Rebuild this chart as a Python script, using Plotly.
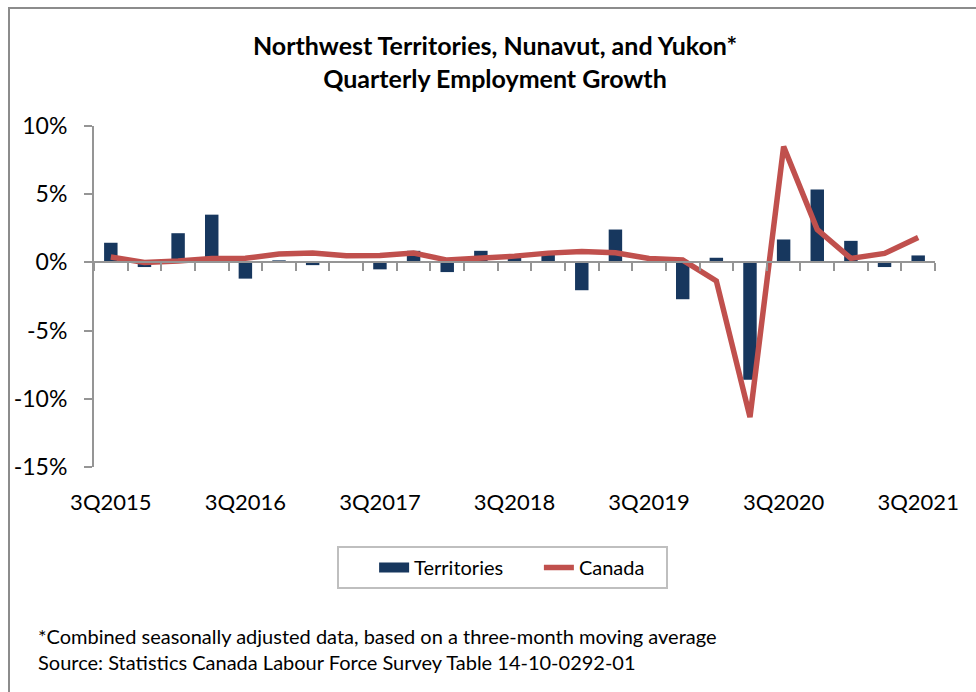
import plotly.graph_objects as go

quarters = ["3Q2015","4Q2015","1Q2016","2Q2016","3Q2016","4Q2016","1Q2017","2Q2017",
            "3Q2017","4Q2017","1Q2018","2Q2018","3Q2018","4Q2018","1Q2019","2Q2019",
            "3Q2019","4Q2019","1Q2020","2Q2020","3Q2020","4Q2020","1Q2021","2Q2021","3Q2021"]
territories = [1.44, -0.34, 2.14, 3.5, -1.19, 0.15, -0.2, 0.1, -0.51, 0.85, -0.71, 0.85,
               0.35, 0.7, -2.04, 2.41, 0.1, -2.7, 0.34, -8.61, 1.68, 5.35, 1.58, -0.34, 0.51]
canada = [0.39, 0.0, 0.1, 0.29, 0.3, 0.61, 0.68, 0.49, 0.51, 0.68, 0.17, 0.27,
          0.46, 0.68, 0.8, 0.71, 0.29, 0.17, -1.36, -11.34, 8.49, 2.41, 0.29, 0.66, 1.82]
ytick_vals = [10, 5, 0, -5, -10, -15]
ytick_text = ["10%", "5%", "0%", "-5%", "-10%", "-15%"]
xtick_labels = quarters[::4]

W, H = 976, 692
L, R, T, B = 94, 41, 126, 225
plot_w = W - L - R
plot_h = H - T - B

def px_x(p):
    return (p - L) / plot_w

def px_y(p):
    return (H - B - p) / plot_h

FONT = "Lato"
NAVY = "#17375E"
RED = "#C0504D"
NB = "\u00a0"

fig = go.Figure()
fig.add_trace(go.Bar(x=quarters, y=territories, name="Territories", showlegend=False,
                     marker=dict(color=NAVY, line=dict(width=0))))
# legend proxy for bars (wide rectangle swatch like the reference)
fig.add_trace(go.Scatter(x=[quarters[0]], y=[None], name="Territories" + NB * 6, mode="lines",
                         line=dict(color=NAVY, width=12), hoverinfo="skip"))
fig.add_trace(go.Scatter(x=quarters, y=canada, name="Canada" + NB * 3, mode="lines",
                         line=dict(color=RED, width=5.5)))

ymin, ymax = -15, 10
zero_pos = (0 - ymin) / (ymax - ymin)

fig.update_layout(
    width=W, height=H,
    margin=dict(l=L, r=R, t=T, b=B, autoexpand=False),
    paper_bgcolor="white", plot_bgcolor="white",
    font=dict(family=FONT, color="black"),
    bargap=0.6,
    title=dict(text="<b>Northwest Territories, Nunavut, and Yukon*<br>Quarterly Employment Growth</b>",
               x=495 / W, xref="container", xanchor="center",
               y=1 - 55 / H, yref="container", yanchor="middle",
               font=dict(family=FONT, size=25, color="black")),
    xaxis=dict(type="category", categoryorder="array", categoryarray=quarters,
               tickvals=xtick_labels, ticktext=xtick_labels, automargin=False,
               showline=False, ticks="", showgrid=False, zeroline=False,
               tickfont=dict(size=22), ticklabelstandoff=20),
    xaxis2=dict(matches="x", overlaying="x", anchor="free", position=zero_pos,
                type="category", showticklabels=False, showline=True, linecolor="#959595",
                linewidth=2, ticks="outside", tickson="boundaries", ticklen=8, automargin=False,
                tickwidth=2, tickcolor="#959595", showgrid=False, zeroline=False),
    yaxis=dict(range=[ymin, ymax], tickvals=ytick_vals, ticktext=ytick_text, automargin=False,
               showline=True, linecolor="#959595", linewidth=2, ticks="outside",
               ticklen=8, tickwidth=2, tickcolor="#959595", showgrid=False,
               zeroline=False, tickfont=dict(size=23), ticklabelstandoff=12),
    legend=dict(orientation="h", x=px_x(502), xanchor="center", y=px_y(546), yanchor="top",
                bordercolor="#BFBFBF", borderwidth=2, font=dict(size=20),
                title=dict(text=NB * 5, side="left", font=dict(size=20)),
                traceorder="normal", itemwidth=30),
    showlegend=True,
)

fig.add_trace(go.Scatter(x=quarters, y=[None]*len(quarters), xaxis="x2", showlegend=False,
                         hoverinfo="skip"))

fig.add_annotation(text="*Combined seasonally adjusted data, based on a three-month moving average",
                   xref="paper", yref="paper", x=px_x(36), y=px_y(636), xanchor="left",
                   yanchor="middle", showarrow=False, font=dict(size=20, family=FONT))
fig.add_annotation(text="Source: Statistics Canada Labour Force Survey Table 14-10-0292-01",
                   xref="paper", yref="paper", x=px_x(36), y=px_y(662), xanchor="left",
                   yanchor="middle", showarrow=False, font=dict(size=20, family=FONT))

fig.add_shape(type="rect", xref="paper", yref="paper",
              x0=px_x(9), x1=px_x(990), y0=px_y(705), y1=px_y(8),
              line=dict(color="#8C8C8C", width=2), fillcolor="rgba(0,0,0,0)", layer="below")

fig.write_html("out.html", config={"displayModeBar": False},
               post_script="document.body.style.margin='0px';")
